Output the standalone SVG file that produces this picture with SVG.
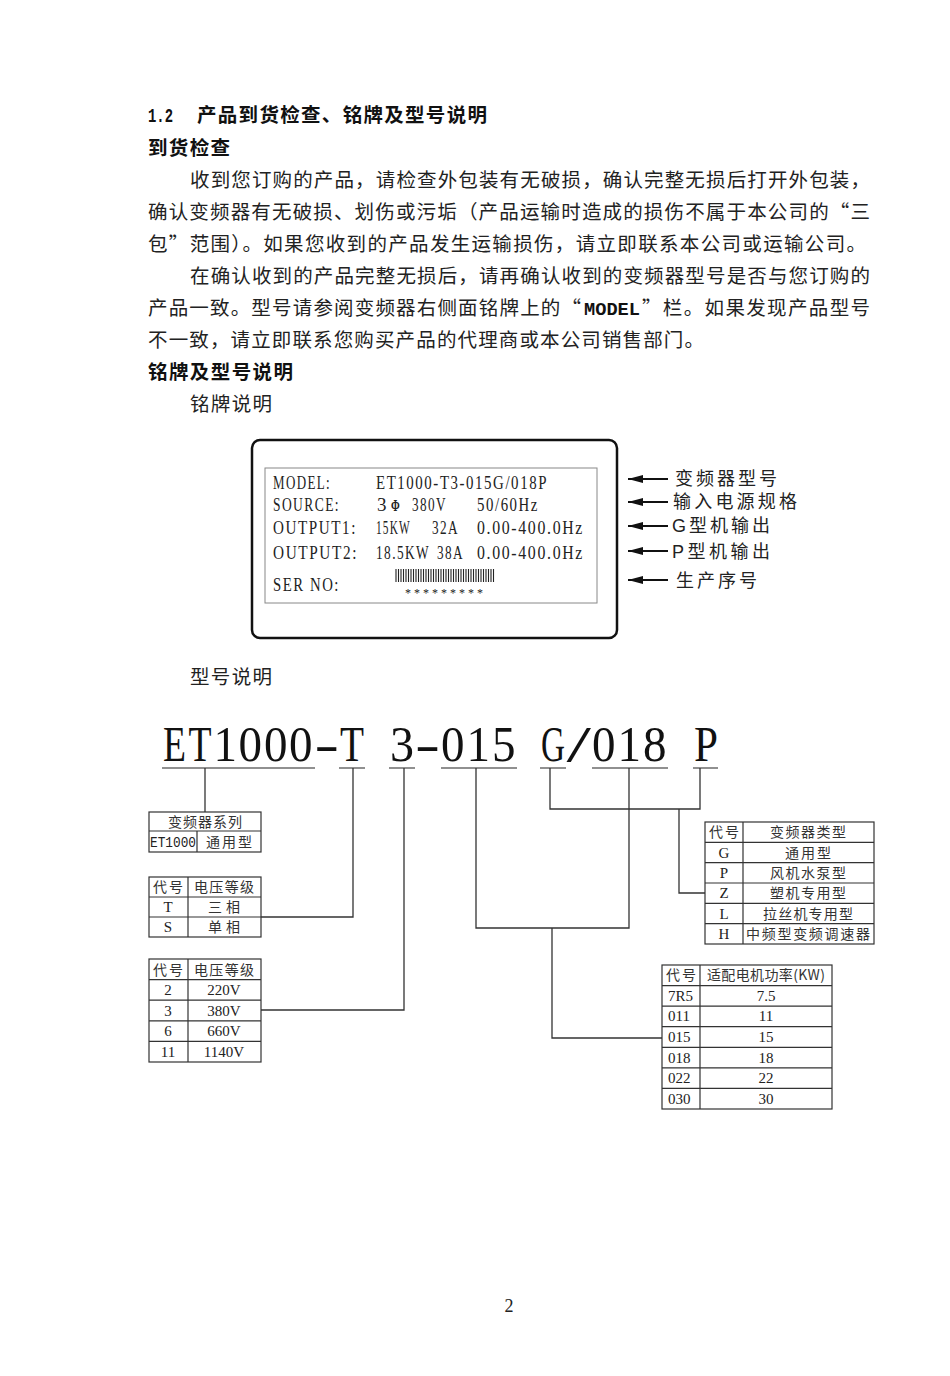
<svg xmlns="http://www.w3.org/2000/svg" width="950" height="1376" viewBox="0 0 950 1376">
<style>
.bg{fill:#fff}
.b{font-family:"Noto Sans CJK SC","Noto Sans CJK JP",sans-serif;font-size:19.5px;fill:#222}
.h{font-family:"Noto Sans CJK SC","Noto Sans CJK JP",sans-serif;font-size:19.5px;font-weight:700;fill:#111}
.np{font-family:"Liberation Serif",serif;font-size:19px;fill:#222;letter-spacing:2px}
.lab{font-family:"Liberation Sans","Noto Sans CJK SC",sans-serif;font-size:18px;fill:#222}
.big{font-family:"Liberation Serif",serif;font-size:51px;fill:#111}
.tc{font-family:"Noto Sans CJK SC","Noto Sans CJK JP",sans-serif;font-size:14px;fill:#333;text-anchor:middle}
.tl{font-family:"Liberation Serif",serif;font-size:15px;fill:#222}
.tm{font-family:"Liberation Serif",serif;font-size:15px;fill:#222;text-anchor:middle}
.mono{font-family:"Liberation Mono",monospace;font-size:14px;fill:#222}
.tbl{fill:none;stroke:#333;stroke-width:1.2}
.ln{fill:none;stroke:#333;stroke-width:1.3}
.ul{fill:none;stroke:#222;stroke-width:1.2}
.arr{stroke:#111;stroke-width:2.2;marker-end:url(#ah)}
</style>
<defs>
<marker id="ah" viewBox="0 0 15 8" refX="15" refY="4" markerWidth="15" markerHeight="8" markerUnits="userSpaceOnUse" orient="auto">
<path d="M0 0L15 4L0 8z" fill="#111"/>
</marker>
</defs>
<rect class="bg" x="0" y="0" width="950" height="1376"/>

<g id="text-block">
<text x="148" y="122" textLength="25" lengthAdjust="spacingAndGlyphs" style="font-family:'Liberation Mono',monospace;font-size:20px;font-weight:700;fill:#111">1.2</text>
<text class="h" x="197" y="122" textLength="290" lengthAdjust="spacing">产品到货检查、铭牌及型号说明</text>
<text class="h" x="148" y="155" textLength="82" lengthAdjust="spacing">到货检查</text>
<text class="b" x="190" y="187" textLength="680" lengthAdjust="spacing">收到您订购的产品，请检查外包装有无破损，确认完整无损后打开外包装，</text>
<text class="b" x="148" y="219" textLength="722" lengthAdjust="spacing">确认变频器有无破损、划伤或污垢（产品运输时造成的损伤不属于本公司的“三</text>
<text class="b" x="148" y="251" textLength="718" lengthAdjust="spacing">包”范围）。如果您收到的产品发生运输损伤，请立即联系本公司或运输公司。</text>
<text class="b" x="190" y="283" textLength="680" lengthAdjust="spacing">在确认收到的产品完整无损后，请再确认收到的变频器型号是否与您订购的</text>
<text class="b" x="148" y="315" textLength="433" lengthAdjust="spacing">产品一致。型号请参阅变频器右侧面铭牌上的“</text>
<text x="584" y="315" textLength="56" lengthAdjust="spacingAndGlyphs" style="font-family:'Liberation Mono',monospace;font-size:19px;font-weight:700;fill:#111">MODEL</text>
<text class="b" x="642" y="315" textLength="228" lengthAdjust="spacing">”栏。如果发现产品型号</text>
<text class="b" x="148" y="347" textLength="556" lengthAdjust="spacing">不一致，请立即联系您购买产品的代理商或本公司销售部门。</text>
<text class="h" x="148" y="379" textLength="145" lengthAdjust="spacing">铭牌及型号说明</text>
<text class="b" x="190" y="411" textLength="82" lengthAdjust="spacing">铭牌说明</text>
<text class="b" x="190" y="684" textLength="82" lengthAdjust="spacing">型号说明</text>
</g>

<g id="nameplate">
<rect x="252" y="440" width="365" height="198" rx="8" fill="none" stroke="#111" stroke-width="2.5"/>
<rect x="265" y="468" width="332" height="135" fill="none" stroke="#888" stroke-width="1"/>
<text class="np" x="273" y="489" textLength="58" lengthAdjust="spacingAndGlyphs">MODEL:</text>
<text class="np" x="376" y="489" textLength="172" lengthAdjust="spacingAndGlyphs">ET1000-T3-015G/018P</text>
<text class="np" x="273" y="511" textLength="67" lengthAdjust="spacingAndGlyphs">SOURCE:</text>
<text class="np" x="377" y="511">3</text>
<text class="np" x="391" y="511" style="font-weight:700;font-size:16px" textLength="10" lengthAdjust="spacingAndGlyphs">Φ</text>
<text class="np" x="412" y="511" textLength="35" lengthAdjust="spacingAndGlyphs">380V</text>
<text class="np" x="477" y="511" textLength="62" lengthAdjust="spacingAndGlyphs">50/60Hz</text>
<text class="np" x="273" y="534" textLength="84" lengthAdjust="spacingAndGlyphs">OUTPUT1:</text>
<text class="np" x="376" y="534" textLength="35" lengthAdjust="spacingAndGlyphs">15KW</text>
<text class="np" x="432" y="534" textLength="27" lengthAdjust="spacingAndGlyphs">32A</text>
<text class="np" x="477" y="534" textLength="107" lengthAdjust="spacingAndGlyphs">0.00-400.0Hz</text>
<text class="np" x="273" y="559" textLength="85" lengthAdjust="spacingAndGlyphs">OUTPUT2:</text>
<text class="np" x="376" y="559" textLength="54" lengthAdjust="spacingAndGlyphs">18.5KW</text>
<text class="np" x="437" y="559" textLength="27" lengthAdjust="spacingAndGlyphs">38A</text>
<text class="np" x="477" y="559" textLength="107" lengthAdjust="spacingAndGlyphs">0.00-400.0Hz</text>
<text class="np" x="273" y="591" textLength="67" lengthAdjust="spacingAndGlyphs">SER NO:</text>
<path d="M396 569v13m2.5-13v13m2.5-13v13m2.5-13v13m2.5-13v13m2.5-13v13m2.5-13v13m2.5-13v13m2.5-13v13m2.5-13v13m2.5-13v13m2.5-13v13m2.5-13v13m2.5-13v13m2.5-13v13m2.5-13v13m2.5-13v13m2.5-13v13m2.5-13v13m2.5-13v13m2.5-13v13m2.5-13v13m2.5-13v13m2.5-13v13m2.5-13v13m2.5-13v13m2.5-13v13m2.5-13v13m2.5-13v13m2.5-13v13m2.5-13v13m2.5-13v13m2.5-13v13m2.5-13v13m2.5-13v13m2.5-13v13m2.5-13v13m2.5-13v13m2.5-13v13m2.5-13v13" stroke="#222" stroke-width="1.1" fill="none"/>
<text class="np" x="405" y="597" style="font-size:12px;letter-spacing:1px" textLength="79" lengthAdjust="spacing">*********</text>
</g>

<g id="nameplate-labels">
<line class="arr" x1="668" y1="479" x2="628" y2="479"/>
<line class="arr" x1="668" y1="502" x2="628" y2="502"/>
<line class="arr" x1="668" y1="526" x2="628" y2="526"/>
<line class="arr" x1="668" y1="551" x2="628" y2="551"/>
<line class="arr" x1="668" y1="580" x2="628" y2="580"/>
<text class="lab" x="675" y="485" textLength="102" lengthAdjust="spacing">变频器型号</text>
<text class="lab" x="673" y="508" textLength="124" lengthAdjust="spacing">输入电源规格</text>
<text class="lab" x="672" y="532" textLength="98" lengthAdjust="spacing">G型机输出</text>
<text class="lab" x="672" y="558" textLength="98" lengthAdjust="spacing">P型机输出</text>
<text class="lab" x="676" y="587" textLength="81" lengthAdjust="spacing">生产序号</text>
</g>

<g id="model-code">
<text class="big" x="163" y="761" textLength="23" lengthAdjust="spacingAndGlyphs">E</text>
<text class="big" x="188.5" y="761" textLength="23" lengthAdjust="spacingAndGlyphs">T</text>
<text class="big" x="213.5" y="761" textLength="23.5" lengthAdjust="spacingAndGlyphs">1</text>
<text class="big" x="238.5" y="761" textLength="23.5" lengthAdjust="spacingAndGlyphs">0</text>
<text class="big" x="264" y="761" textLength="23.5" lengthAdjust="spacingAndGlyphs">0</text>
<text class="big" x="289" y="761" textLength="23.5" lengthAdjust="spacingAndGlyphs">0</text>
<text class="big" x="314.5" y="761" textLength="24.5" lengthAdjust="spacingAndGlyphs">-</text>
<text class="big" x="340" y="761" textLength="24" lengthAdjust="spacingAndGlyphs">T</text>
<text class="big" x="390" y="761" textLength="24" lengthAdjust="spacingAndGlyphs">3</text>
<text class="big" x="415" y="761" textLength="25" lengthAdjust="spacingAndGlyphs">-</text>
<text class="big" x="441" y="761" textLength="23.5" lengthAdjust="spacingAndGlyphs">0</text>
<text class="big" x="466.5" y="761" textLength="23.5" lengthAdjust="spacingAndGlyphs">1</text>
<text class="big" x="492" y="761" textLength="23.5" lengthAdjust="spacingAndGlyphs">5</text>
<text class="big" x="541" y="761" textLength="24" lengthAdjust="spacingAndGlyphs">G</text>
<text class="big" x="566.5" y="761" textLength="24.5" lengthAdjust="spacingAndGlyphs">/</text>
<text class="big" x="592" y="761" textLength="23.5" lengthAdjust="spacingAndGlyphs">0</text>
<text class="big" x="617.5" y="761" textLength="23.5" lengthAdjust="spacingAndGlyphs">1</text>
<text class="big" x="643" y="761" textLength="23.5" lengthAdjust="spacingAndGlyphs">8</text>
<text class="big" x="694" y="761" textLength="24" lengthAdjust="spacingAndGlyphs">P</text>
<path class="ul" d="M162 768H315M339 768H365M389 768H415M441 768H517M540 768H566M592 768H668M693 768H718"/>
</g>

<g id="connectors">
<path class="ln" d="M205 768V812"/>
<path class="ln" d="M353 768V917H261"/>
<path class="ln" d="M404 768V1010H261"/>
<path class="ln" d="M476 768V928H629V768"/>
<path class="ln" d="M552 928V1038H662"/>
<path class="ln" d="M550 768V809H700V768"/>
<path class="ln" d="M679 809V893H705"/>
</g>

<g id="table-series">
<rect class="tbl" x="149" y="812" width="112" height="40"/>
<path class="tbl" d="M149 831H261M197 831V852"/>
<text class="tc" x="205" y="827" textLength="74" lengthAdjust="spacing">变频器系列</text>
<text class="mono" x="150" y="847" textLength="46" lengthAdjust="spacingAndGlyphs">ET1000</text>
<text class="tc" x="229" y="847" textLength="46" lengthAdjust="spacing">通用型</text>
</g>

<g id="table-phase">
<rect class="tbl" x="149" y="877" width="112" height="60"/>
<path class="tbl" d="M149 897H261M149 917H261M188 877V937"/>
<text class="tc" x="168" y="892" textLength="30" lengthAdjust="spacing">代号</text>
<text class="tc" x="224" y="892" textLength="60" lengthAdjust="spacing">电压等级</text>
<text class="tm" x="168" y="912">T</text>
<text class="tc" x="224" y="912" textLength="32" lengthAdjust="spacing">三相</text>
<text class="tm" x="168" y="932">S</text>
<text class="tc" x="224" y="932" textLength="32" lengthAdjust="spacing">单相</text>
</g>

<g id="table-voltage">
<rect class="tbl" x="149" y="959" width="112" height="103"/>
<path class="tbl" d="M149 979.6H261M149 1000.2H261M149 1020.8H261M149 1041.4H261M188 959V1062"/>
<text class="tc" x="168" y="975" textLength="30" lengthAdjust="spacing">代号</text>
<text class="tc" x="224" y="975" textLength="60" lengthAdjust="spacing">电压等级</text>
<text class="tm" x="168" y="995">2</text>
<text class="tm" x="224" y="995">220V</text>
<text class="tm" x="168" y="1016">3</text>
<text class="tm" x="224" y="1016">380V</text>
<text class="tm" x="168" y="1036">6</text>
<text class="tm" x="224" y="1036">660V</text>
<text class="tm" x="168" y="1057">11</text>
<text class="tm" x="224" y="1057">1140V</text>
</g>

<g id="table-type">
<rect class="tbl" x="705" y="822" width="169" height="122"/>
<path class="tbl" d="M705 842.3H874M705 862.7H874M705 883H874M705 903.3H874M705 923.7H874M743 822V944"/>
<text class="tc" x="724" y="837" textLength="30" lengthAdjust="spacing">代号</text>
<text class="tc" x="808" y="837" textLength="76" lengthAdjust="spacing">变频器类型</text>
<text class="tm" x="724" y="858">G</text>
<text class="tc" x="808" y="858" textLength="46" lengthAdjust="spacing">通用型</text>
<text class="tm" x="724" y="878">P</text>
<text class="tc" x="808" y="878" textLength="76" lengthAdjust="spacing">风机水泵型</text>
<text class="tm" x="724" y="898">Z</text>
<text class="tc" x="808" y="898" textLength="76" lengthAdjust="spacing">塑机专用型</text>
<text class="tm" x="724" y="919">L</text>
<text class="tc" x="808" y="919" textLength="90" lengthAdjust="spacing">拉丝机专用型</text>
<text class="tm" x="724" y="939">H</text>
<text class="tc" x="808" y="939" textLength="124" lengthAdjust="spacing">中频型变频调速器</text>
</g>

<g id="table-power">
<rect class="tbl" x="662" y="965" width="170" height="144"/>
<path class="tbl" d="M662 985.6H832M662 1006.1H832M662 1026.7H832M662 1047.3H832M662 1067.9H832M662 1088.4H832M700 965V1109"/>
<text class="tc" x="681" y="980" textLength="30" lengthAdjust="spacing">代号</text>
<text class="tc" x="766" y="980" textLength="118" lengthAdjust="spacing">适配电机功率(KW)</text>
<text class="tl" x="668" y="1001">7R5</text>
<text class="tm" x="766" y="1001">7.5</text>
<text class="tl" x="668" y="1021">011</text>
<text class="tm" x="766" y="1021">11</text>
<text class="tl" x="668" y="1042">015</text>
<text class="tm" x="766" y="1042">15</text>
<text class="tl" x="668" y="1063">018</text>
<text class="tm" x="766" y="1063">18</text>
<text class="tl" x="668" y="1083">022</text>
<text class="tm" x="766" y="1083">22</text>
<text class="tl" x="668" y="1104">030</text>
<text class="tm" x="766" y="1104">30</text>
</g>

<text x="509" y="1312" text-anchor="middle" style="font-family:'Liberation Serif',serif;font-size:18px;fill:#222">2</text>
</svg>
